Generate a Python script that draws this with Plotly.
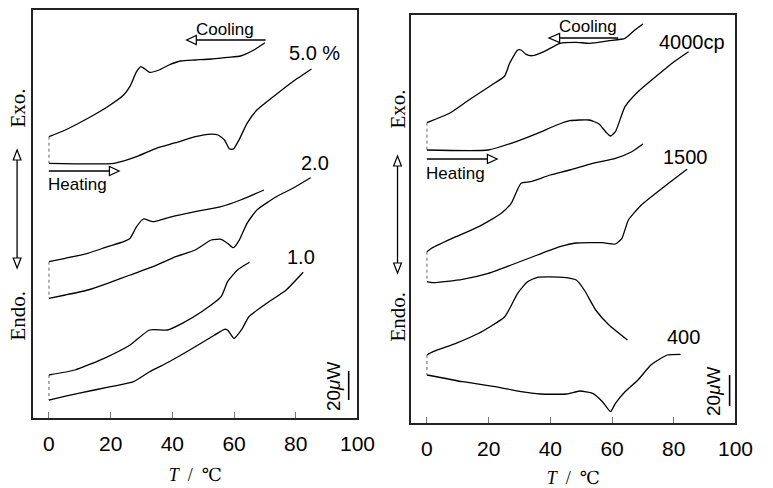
import plotly.graph_objects as go

# ---------------- data (T in °C, heat-flow signal in arbitrary offset units) -------------
# Left panel: concentration series
L50c_T = [0, 5.3, 11.6, 19.0, 24.2, 26.2, 28.4, 29.8, 31.1, 32.6, 35.7, 38.9, 42.7, 47.4, 52.7, 57.8, 62.1, 66.4, 70.0]
L50c_Y = [281.3, 288, 298, 311.3, 323, 331.3, 346.3, 351.3, 349, 345.7, 348, 353, 357, 358, 359, 360.7, 362, 368, 375.3]
L50h_T = [0, 21.1, 28.4, 34.8, 41.1, 47.4, 51.6, 54.8, 56.9, 58.5, 59.8, 61.6, 64.2, 67.4, 72.7, 79.0, 85.1]
L50h_Y = [254.7, 254.7, 261.3, 269.7, 275.3, 281.3, 283.7, 283, 278, 269, 269, 278, 294.7, 308, 321.3, 336.3, 349]

L20c_T = [0, 5.3, 12.6, 19.0, 24.2, 26.3, 28.4, 30.6, 33.7, 39.0, 47.4, 55.8, 62.1, 69.7]
L20c_Y = [156.3, 159.7, 164.7, 171.3, 176.3, 179.7, 191.3, 199, 196.3, 200.7, 206.3, 211.3, 218, 228]
L20h_T = [0, 5.3, 12.6, 19.0, 26.3, 33.7, 41.1, 47.4, 52.6, 55.8, 57.9, 59.8, 61.6, 64.2, 67.4, 73.7, 79.0, 84.8]
L20h_Y = [119.7, 123, 128, 134.7, 143, 151.3, 161.3, 168, 178, 178.7, 174.7, 170.3, 177.3, 194.7, 208, 221.3, 229.7, 240.3]

L10c_T = [0, 8.4, 17.9, 26.3, 32.6, 38.4, 43.2, 49.5, 55.8, 57.9, 61.1, 65.0]
L10c_Y = [43, 48, 59.7, 73, 88, 88, 94.7, 106.3, 121.3, 136.3, 148, 155.7]
L10h_T = [0, 1.0, 9.5, 20.0, 27.4, 32.6, 39.0, 47.4, 53.7, 56.9, 57.9, 60.0, 62.7, 64.8, 70.6, 76.9, 82.4]
L10h_Y = [18, 18.7, 24.7, 31.3, 36.3, 46.3, 56.3, 71.3, 83, 88.7, 88, 79.7, 89.7, 101.3, 114.7, 128, 145.7]

# Right panel: viscosity series
R4000c_T = [0, 7.3, 13.6, 21.0, 25.2, 26.8, 29.4, 30.5, 32.1, 34.2, 37.9, 43.1, 48.4, 52.6, 59.0, 64.2, 67.4, 70.0]
R4000c_Y = [300.3, 309.7, 323, 338, 347, 359.7, 373, 373, 368.7, 367.3, 371.3, 379.7, 380.7, 379.7, 382.3, 384.7, 393, 399]
R4000h_T = [0, 19.9, 27.3, 35.8, 42.1, 46.3, 52.6, 55.8, 57.9, 59.5, 61.1, 64.2, 68.4, 74.8, 80.1, 84.8]
R4000h_Y = [273, 273, 279.7, 289.7, 298, 302.3, 303, 299, 291.3, 287, 291.3, 316.3, 331.3, 348, 361.3, 371.3]

R1500c_T = [0, 1.5, 9.4, 16.8, 24.1, 27.3, 30.5, 33.6, 40.0, 46.3, 53.7, 61.1, 66.4, 70.0]
R1500c_Y = [171.3, 174.7, 186.3, 196.3, 209.7, 219.7, 239.7, 241.3, 248, 253, 259.7, 264.7, 271.3, 279]
R1500h_T = [0, 2.0, 11.5, 19.9, 27.3, 35.8, 43.1, 48.4, 56.9, 61.1, 63.2, 65.3, 69.5, 76.9, 84.3]
R1500h_Y = [141.3, 140.3, 143.7, 149.7, 158, 168, 176.3, 180, 180.3, 179, 184.7, 203, 218, 236.3, 253.7]

R400c_T = [0, 2.0, 9.4, 16.8, 25.2, 29.4, 32.6, 35.8, 44.2, 48.4, 51.0, 54.7, 59.0, 65.0]
R400c_Y = [68, 71.3, 79.7, 89.7, 106.3, 129.7, 141.3, 145.7, 145.7, 143, 133, 113, 98, 83]
R400h_T = [0, 11.5, 22.1, 30.5, 36.8, 45.3, 49.5, 53.7, 56.9, 59.5, 61.1, 64.2, 68.4, 72.6, 77.9, 82.2]
R400h_Y = [48, 41.3, 36.3, 31.3, 29, 29, 32, 29.7, 21.3, 11.3, 19.7, 31.3, 43, 58, 68, 68.7]

left_curves = [(L50c_T, L50c_Y, L50h_T, L50h_Y), (L20c_T, L20c_Y, L20h_T, L20h_Y), (L10c_T, L10c_Y, L10h_T, L10h_Y)]
right_curves = [(R4000c_T, R4000c_Y, R4000h_T, R4000h_Y), (R1500c_T, R1500c_Y, R1500h_T, R1500h_Y), (R400c_T, R400c_Y, R400h_T, R400h_Y)]

tick_vals = [0, 20, 40, 60, 80, 100]
tick_text = ["0", "20", "40", "60", "80", "100"]
left_labels = ["5.0 %", "2.0", "1.0"]
right_labels = ["4000cp", "1500", "400"]

# ---------------- figure -------------------------------------------------------------------
W, H = 773, 488
def px(x): return x / W
def py(y): return 1 - y / H

fig = go.Figure()

def add_panel(curves, xa, ya):
    for cT, cY, hT, hY in curves:
        for T, Y in ((cT, cY), (hT, hY)):
            fig.add_trace(go.Scatter(x=T, y=Y, mode="lines", xaxis=xa, yaxis=ya,
                                     line=dict(color="black", width=1.3, shape="spline", smoothing=0.5),
                                     showlegend=False, hoverinfo="skip"))
        fig.add_trace(go.Scatter(x=[cT[0], hT[0]], y=[cY[0], hY[0]], mode="lines", xaxis=xa, yaxis=ya,
                                 line=dict(color="#666", width=1, dash="dot"), showlegend=False, hoverinfo="skip"))

add_panel(left_curves, "x", "y")
add_panel(right_curves, "x2", "y2")

xcommon = dict(range=[-5.1, 100], tickvals=tick_vals, ticktext=tick_text, ticks="inside", ticklen=6,
               tickcolor="#777", tickwidth=1, showline=True, mirror=True, linecolor="#222", linewidth=2,
               showgrid=False, zeroline=False, ticklabelstandoff=6,
               tickfont=dict(family="Liberation Sans, Arial, sans-serif", size=21, color="black"),
               title=dict(text="<i>T</i>  /  ℃", standoff=14,
                          font=dict(family="Liberation Serif, DejaVu Serif, serif", size=18, color="black")))
ycommon = dict(range=[0, 408], showticklabels=False, ticks="", showline=True, mirror=True,
               linecolor="#222", linewidth=2, showgrid=False, zeroline=False)

fig.update_layout(
    width=W, height=H, margin=dict(l=0, r=0, t=0, b=0), autosize=False,
    paper_bgcolor="white", plot_bgcolor="white",
    xaxis=dict(domain=[px(34), px(366)], anchor="y", **xcommon),
    yaxis=dict(domain=[py(418), py(10)], anchor="x", **ycommon),
    xaxis2=dict(domain=[px(421), px(753)], anchor="y2", **xcommon),
    yaxis2=dict(domain=[py(423), py(15)], anchor="x2", **ycommon),
)

sans = "Liberation Sans, Arial, sans-serif"
serif = "Liberation Serif, Times New Roman, serif"
ann = []
def text(x, y, s, size, fam=sans, angle=0):
    ann.append(dict(x=px(x), y=py(y), xref="paper", yref="paper", text=s, showarrow=False,
                    xanchor="center", yanchor="middle", textangle=angle,
                    font=dict(family=fam, size=size, color="black")))

# left panel texts
text(230, 29, "Cooling", 17)
text(79, 184, "Heating", 17)
for s, (x, y) in zip(left_labels, [(322, 53), (322, 163), (308, 257)]):
    text(x, y, s, 20)
text(341, 386, "20<i>μ</i>W", 19, angle=-90)
text(18, 108, "Exo.", 21, serif, -90)
text(18, 316, "Endo.", 21, serif, -90)
# right panel texts
text(602, 26, "Cooling", 17)
text(466, 173, "Heating", 17)
for s, (x, y) in zip(right_labels, [(709, 42), (702, 157), (700, 337)]):
    text(x, y, s, 20)
text(730, 391, "20<i>μ</i>W", 19, angle=-90)
text(408, 109, "Exo.", 21, serif, -90)
text(408, 316, "Endo.", 21, serif, -90)

fig.update_layout(annotations=ann)

shapes = []
def seg(x0, y0, x1, y1, w=1.3):
    shapes.append(dict(type="line", xref="paper", yref="paper", x0=px(x0), y0=py(y0), x1=px(x1), y1=py(y1),
                       line=dict(color="black", width=w)))
def tri(pts):
    path = "M " + " L ".join(f"{px(a)},{py(b)}" for a, b in pts) + " Z"
    shapes.append(dict(type="path", xref="paper", yref="paper", path=path,
                       line=dict(color="black", width=1.2), fillcolor="white"))

# horizontal arrows
seg(201, 40, 272, 40); tri([(191, 40), (201, 35.5), (201, 44.5)])
seg(50, 171, 112, 171); tri([(122, 171), (112, 166.5), (112, 175.5)])
seg(573, 38, 633, 38); tri([(562, 38), (573, 33.5), (573, 42.5)])
seg(437, 159, 499, 159); tri([(509, 159), (499, 154.5), (499, 163.5)])
# vertical double arrows
seg(17.5, 160, 17.5, 258); tri([(17.5, 150), (13.5, 160), (21.5, 160)]); tri([(17.5, 268), (13.5, 258), (21.5, 258)])
seg(407, 166, 407, 263); tri([(407, 156), (403, 166), (411, 166)]); tri([(407, 273), (403, 263), (411, 263)])
# scale bars
seg(357, 371, 357, 400, 1.6)
seg(747, 375, 747, 406, 1.6)

fig.update_layout(shapes=shapes)
fig.write_html("out.html", config={"displayModeBar": False})
